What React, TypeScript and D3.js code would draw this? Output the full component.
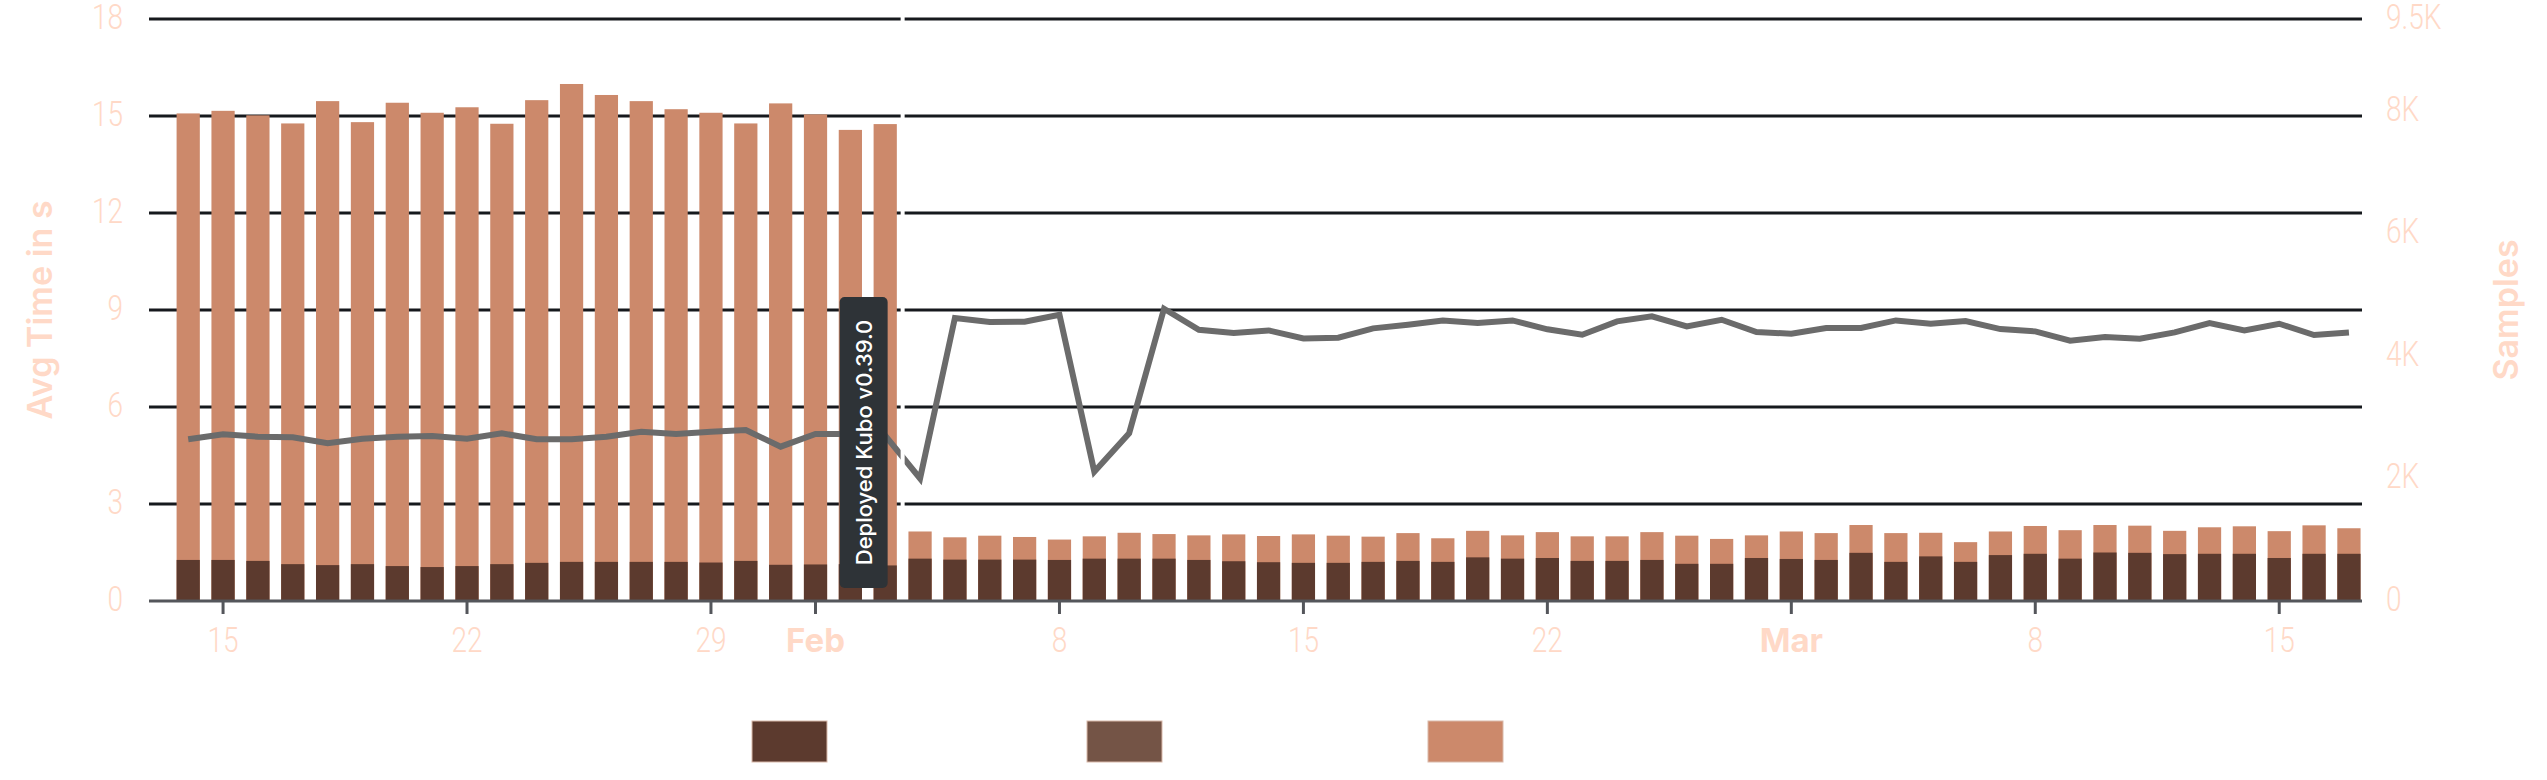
import React from 'react';
import * as d3 from 'd3';

// daily buckets, Jan 14 .. Mar 17 2026
const FIRST_DAY = '2026-01-14';
const LAST_DAY = '2026-03-17';
const DEPLOY_AT = '2026-02-03T12:00:00Z';
const DEPLOY_LABEL = 'Deployed Kubo v0.39.0';

// top of the light bar (s)
const avgTotal = [
  15.08, 15.16, 15.02, 14.77, 15.46, 14.81, 15.41, 15.1, 15.27, 14.76, 15.49, 15.99, 15.65, 15.46,
  15.21, 15.1, 14.77, 15.39, 15.05, 14.57, 14.75,
  2.15, 1.97, 2.02, 1.98, 1.9, 2.0, 2.11, 2.07, 2.03, 2.06, 2.01, 2.06, 2.02, 1.99, 2.1, 1.94,
  2.17, 2.03, 2.13, 2.0, 2.0, 2.13, 2.02, 1.92, 2.03,
  2.15, 2.1, 2.35, 2.1, 2.11, 1.82, 2.15, 2.32, 2.19, 2.35, 2.33, 2.17, 2.28, 2.31, 2.16, 2.34, 2.25,
];

// dark bar (s)
const avgFirst = [
  1.27, 1.27, 1.24, 1.14, 1.11, 1.14, 1.08, 1.05, 1.08, 1.14, 1.18, 1.21, 1.21, 1.21,
  1.21, 1.19, 1.24, 1.12, 1.13, 1.14, 1.1,
  1.31, 1.28, 1.28, 1.28, 1.27, 1.31, 1.31, 1.31, 1.27, 1.23, 1.2, 1.18, 1.18, 1.21, 1.24, 1.21,
  1.35, 1.31, 1.33, 1.24, 1.24, 1.27, 1.15, 1.15, 1.33,
  1.3, 1.27, 1.49, 1.21, 1.38, 1.21, 1.42, 1.46, 1.31, 1.5, 1.49, 1.45, 1.46, 1.46, 1.33, 1.46, 1.46,
];

const samples = [
  2639, 2721, 2682, 2672, 2574, 2649, 2682, 2693, 2649, 2737, 2639, 2639, 2682, 2763,
  2726, 2763, 2791, 2519, 2726, 2726, 2700,
  2000, 4620, 4554, 4560, 4672, 2110, 2740, 4770, 4428, 4374, 4417, 4286, 4297, 4450, 4510, 4580,
  4537, 4580, 4435, 4347, 4564, 4646, 4482, 4591, 4390,
  4363, 4456, 4456, 4580, 4526, 4570, 4439, 4401, 4248, 4309, 4281, 4384, 4537, 4417, 4526, 4341, 4384,
];

const leftTicks = [0, 3, 6, 9, 12, 15, 18];
const rightTicks = [0, 2000, 4000, 6000, 8000, 9500];
const rightTickLabels = ['0', '2K', '4K', '6K', '8K', '9.5K'];
const xTicks = ['2026-01-15', '2026-01-22', '2026-01-29', '2026-02-01', '2026-02-08', '2026-02-15', '2026-02-22', '2026-03-01', '2026-03-08', '2026-03-15'];
const xTickLabels = ['15', '22', '29', 'Feb', '8', '15', '22', 'Mar', '8', '15'];
const legendColors = ['#5C3A2E', '#745446', '#CC896B'];

const PEACH = '#FFD9C7';
const NUM_FONT = 'Roboto, "Liberation Sans", sans-serif';
const TITLE_FONT = 'Inter, "Noto Sans", sans-serif';

export default function App() {
  const W = 2547;
  const H = 780;
  const left = 149, right = 2362, top = 19, bottom = 601;

  const days = d3.utcDay.range(new Date(FIRST_DAY), d3.utcDay.offset(new Date(LAST_DAY), 1));
  const x = d3.scaleUtc()
    .domain([d3.utcHour.offset(days[0], -27), d3.utcHour.offset(days[days.length - 1], 9)])
    .range([left, right]);
  const yL = d3.scaleLinear().domain([0, 18]).range([bottom, top]);
  const yR = d3.scaleLinear().domain([0, 9500]).range([bottom, top]);
  const bw = x(d3.utcHour.offset(days[0], 16.5)) - x(days[0]);

  const line = d3.line<number>()
    .x((_, i) => x(days[i]))
    .y(d => yR(d));

  const ax = x(new Date(DEPLOY_AT));
  const boxW = 48, boxTop = 297, boxBottom = 588;
  const boxX = ax - 15 - boxW;

  const legendX = [752, 1087, 1428];

  return (
    <svg width={W} height={H} style={{ position: 'absolute', left: 0, top: 0, background: '#fff' }}>
      {/* grid */}
      <g>
        {leftTicks.filter(t => t > 0).map(t => (
          <line key={t} x1={left} x2={right} y1={yL(t)} y2={yL(t)} stroke="#16191D" strokeWidth={3} />
        ))}
      </g>

      {/* bars */}
      <g>
        {days.map((d, i) => (
          <rect key={'t' + i} x={x(d) - bw / 2} width={bw} y={yL(avgTotal[i])} height={yL(0) - yL(avgTotal[i])} fill="#CC896B" />
        ))}
        {days.map((d, i) => (
          <rect key={'f' + i} x={x(d) - bw / 2} width={bw} y={yL(avgFirst[i])} height={yL(0) - yL(avgFirst[i])} fill="#5C3A2E" />
        ))}
      </g>

      {/* x axis */}
      <line x1={left} x2={right} y1={bottom} y2={bottom} stroke="#54565B" strokeWidth={3} />
      {xTicks.map((t, i) => {
        const tx = x(new Date(t));
        const bold = isNaN(+xTickLabels[i]);
        return (
          <g key={t}>
            <line x1={tx} x2={tx} y1={bottom} y2={bottom + 13} stroke="#54565B" strokeWidth={3} />
            {bold ? (
              <text x={tx} y={bottom + 51} textAnchor="middle" fill={PEACH} fontFamily={TITLE_FONT} fontWeight={700} fontSize={33}>
                {xTickLabels[i]}
              </text>
            ) : (
              <text transform={`translate(${tx},${bottom + 51}) scale(0.8,1)`} textAnchor="middle" fill={PEACH} fontFamily={NUM_FONT} fontWeight={300} fontSize={35}>
                {xTickLabels[i]}
              </text>
            )}
          </g>
        );
      })}

      {/* samples line */}
      <path d={line(samples) ?? ''} fill="none" stroke="#6B6B6B" strokeWidth={6} strokeLinejoin="miter" />

      {/* annotation */}
      <line x1={ax} x2={ax} y1={top - 2} y2={bottom - 3} stroke="#fff" strokeWidth={4} />
      <rect x={boxX} y={boxTop} width={boxW} height={boxBottom - boxTop} rx={5} fill="#2E3337" />
      <text
        transform={`translate(${boxX + boxW / 2 + 8},${(boxTop + boxBottom) / 2}) rotate(-90)`}
        textAnchor="middle"
        fill="#fff"
        fontFamily={TITLE_FONT}
        fontWeight={500}
        fontSize={22}
      >
        {DEPLOY_LABEL}
      </text>

      {/* left axis */}
      {leftTicks.map(t => (
        <text key={t} transform={`translate(123,${yL(t) + 10}) scale(0.8,1)`} textAnchor="end" fill={PEACH} fontFamily={NUM_FONT} fontWeight={300} fontSize={35}>
          {t}
        </text>
      ))}
      <text transform={`translate(52,${(top + bottom) / 2}) rotate(-90)`} textAnchor="middle" fill={PEACH} fontFamily={TITLE_FONT} fontWeight={600} fontSize={34}>
        Avg Time in s
      </text>

      {/* right axis */}
      {rightTicks.map((t, i) => (
        <text key={t} transform={`translate(2386,${yR(t) + 10}) scale(0.8,1)`} textAnchor="start" fill={PEACH} fontFamily={NUM_FONT} fontWeight={300} fontSize={35}>
          {rightTickLabels[i]}
        </text>
      ))}
      <text transform={`translate(2518,${(top + bottom) / 2}) rotate(-90)`} textAnchor="middle" fill={PEACH} fontFamily={TITLE_FONT} fontWeight={600} fontSize={34}>
        Samples
      </text>

      {/* legend */}
      {legendColors.map((c, i) => (
        <rect key={c} x={legendX[i]} y={721} width={75} height={41} fill={c} stroke="#D9B9AA" strokeWidth={1} />
      ))}
    </svg>
  );
}
